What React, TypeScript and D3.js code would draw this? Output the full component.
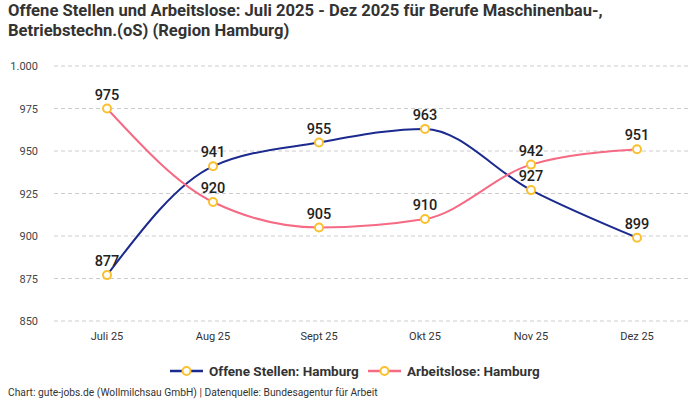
import React, { useRef, useEffect } from 'react';
import * as d3 from 'd3';

const months = ['Juli 25', 'Aug 25', 'Sept 25', 'Okt 25', 'Nov 25', 'Dez 25'];
const offeneStellen = [877, 941, 955, 963, 927, 899];
const arbeitslose = [975, 920, 905, 910, 942, 951];
const yTicks = [850, 875, 900, 925, 950, 975, 1000];

const BLUE = '#1b2a8e';
const PINK = '#f66a83';
const MARKER = '#fbc02d';
const FONT = 'Roboto, "Noto Sans", sans-serif';

const W = 700;
const H = 400;

export default function App() {
  const svgRef = useRef<SVGSVGElement>(null);

  useEffect(() => {
    const svg = d3.select(svgRef.current);
    svg.selectAll('*').remove();

    const x = d3.scalePoint<string>().domain(months).range([54, 690]).padding(0.5);
    const y = d3.scaleLinear().domain([850, 1000]).range([321, 66]);
    const fmt = d3.formatLocale({ decimal: ',', thousands: '.', grouping: [3], currency: ['', '€'] }).format(',');

    // title
    const title = svg.append('text')
      .attr('font-family', FONT).attr('font-size', '16.6px').attr('font-weight', 'bold').attr('fill', '#333');
    title.append('tspan').attr('x', 8).attr('y', 16)
      .text('Offene Stellen und Arbeitslose: Juli 2025 - Dez 2025 für Berufe Maschinenbau-,');
    title.append('tspan').attr('x', 8).attr('y', 36).text('Betriebstechn.(oS) (Region Hamburg)');

    // grid + y labels
    const grid = svg.append('g');
    yTicks.forEach(t => {
      grid.append('line')
        .attr('x1', 54).attr('x2', 690).attr('y1', y(t)).attr('y2', y(t))
        .attr('stroke', '#cccccc').attr('stroke-dasharray', '4,3');
      grid.append('text')
        .attr('x', 38).attr('y', y(t) + 4).attr('text-anchor', 'end')
        .attr('font-family', FONT).attr('font-size', '11px').attr('fill', '#444')
        .text(fmt(t));
    });

    // x labels
    months.forEach(m => {
      svg.append('text')
        .attr('x', x(m)!).attr('y', 340).attr('text-anchor', 'middle')
        .attr('font-family', FONT).attr('font-size', '11px').attr('fill', '#333')
        .text(m);
    });

    const series = [
      { name: 'Offene Stellen: Hamburg', values: offeneStellen, color: BLUE },
      { name: 'Arbeitslose: Hamburg', values: arbeitslose, color: PINK },
    ];

    const line = d3.line<number>()
      .x((_, i) => x(months[i])!)
      .y(d => y(d))
      .curve(d3.curveMonotoneX);

    series.forEach(s => {
      svg.append('path').datum(s.values)
        .attr('fill', 'none').attr('stroke', s.color).attr('stroke-width', 2)
        .attr('d', line);
    });

    series.forEach(s => {
      s.values.forEach((v, i) => {
        svg.append('circle')
          .attr('cx', x(months[i])!).attr('cy', y(v)).attr('r', 4)
          .attr('fill', '#fff').attr('stroke', MARKER).attr('stroke-width', 2);
        svg.append('text')
          .attr('x', x(months[i])!).attr('y', y(v) - 9).attr('text-anchor', 'middle')
          .attr('font-family', FONT).attr('font-size', '14.5px').attr('font-weight', 500).attr('fill', '#222')
          .text(fmt(v));
      });
    });

    // legend
    const legendX = [170, 368];
    series.forEach((s, i) => {
      const g = svg.append('g').attr('transform', `translate(${legendX[i]},371)`);
      g.append('line').attr('x1', 0).attr('x2', 33).attr('y1', 0).attr('y2', 0)
        .attr('stroke', s.color).attr('stroke-width', 2.5);
      g.append('circle').attr('cx', 16.5).attr('cy', 0).attr('r', 4)
        .attr('fill', '#fff').attr('stroke', MARKER).attr('stroke-width', 2);
      g.append('text').attr('x', 39).attr('y', 5)
        .attr('font-family', FONT).attr('font-size', '13.5px').attr('font-weight', 'bold').attr('fill', '#333')
        .text(s.name);
    });

    // footer
    svg.append('text')
      .attr('x', 8).attr('y', 396)
      .attr('font-family', FONT).attr('font-size', '10.25px').attr('fill', '#333')
      .text('Chart: gute-jobs.de (Wollmilchsau GmbH) | Datenquelle: Bundesagentur für Arbeit');
  }, []);

  return (
    <div style={{ position: 'absolute', left: 0, top: 0, width: W, height: H, background: '#fff' }}>
      <svg ref={svgRef} width={W} height={H} style={{ display: 'block' }} />
    </div>
  );
}
